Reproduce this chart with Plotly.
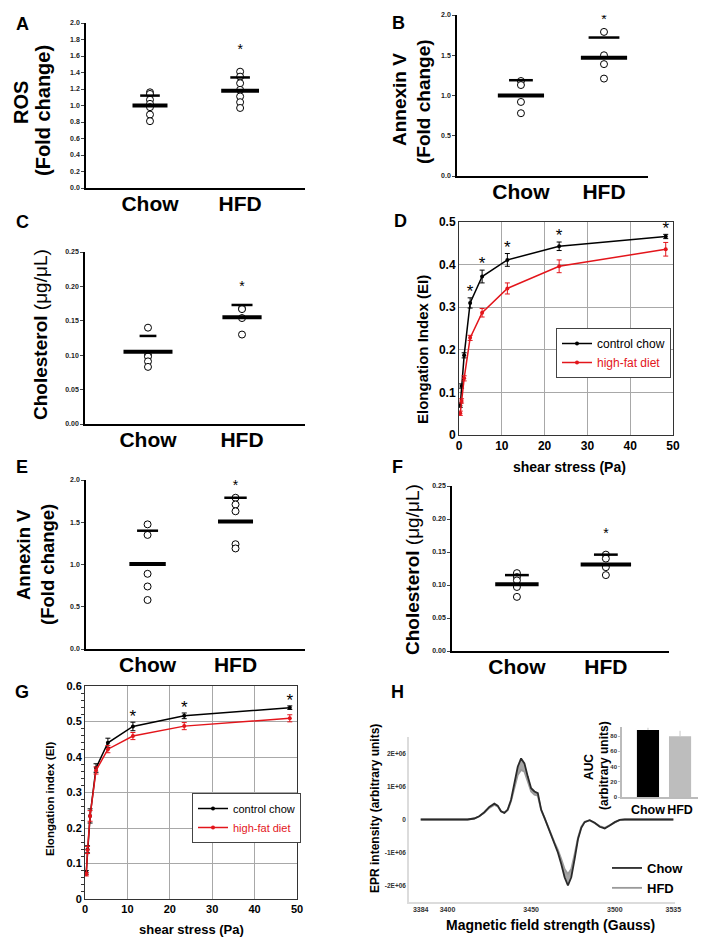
import plotly.graph_objects as go

W, H = 709, 947
FONT = "Liberation Sans, Arial, Helvetica, sans-serif"

# ---------------- data ----------------
groups = ["Chow", "HFD"]

# A  ROS (fold change)
A_chow = [1.16, 1.14, 1.07, 1.02, 0.98, 0.89, 0.81]
A_hfd = [1.41, 1.35, 1.27, 1.19, 1.11, 1.04, 0.97]
A_mean = [1.00, 1.18]
A_upper = [1.12, 1.34]
A_star = 1.67

# B  Annexin V (fold change)
B_chow = [1.18, 1.13, 0.92, 0.78]
B_hfd = [1.79, 1.50, 1.39, 1.21]
B_mean = [1.00, 1.47]
B_upper = [1.19, 1.72]
B_star = 1.93

# C  Cholesterol (ug/uL)
C_chow = [0.140, 0.100, 0.098, 0.091, 0.083]
C_hfd = [0.168, 0.167, 0.154, 0.130]
C_mean = [0.105, 0.155]
C_upper = [0.128, 0.173]
C_star = 0.198

# E  Annexin V (fold change)
E_chow = [1.475, 1.35, 0.89, 0.74, 0.58]
E_hfd = [1.79, 1.71, 1.63, 1.24, 1.19]
E_mean = [1.006, 1.51]
E_upper = [1.40, 1.79]
E_star = 1.92

# F  Cholesterol (ug/uL)
F_chow = [0.118, 0.112, 0.107, 0.097, 0.082]
F_hfd = [0.146, 0.140, 0.127, 0.115]
F_mean = [0.101, 0.131]
F_upper = [0.115, 0.146]
F_star = 0.176

# D / G  elongation index vs shear stress
shear = [0.3, 0.6, 1.2, 2.6, 5.4, 11.3, 23.4, 48.3]
D_ctrl = [0.070, 0.115, 0.187, 0.310, 0.372, 0.411, 0.443, 0.466]
D_ctrl_err = [0.005, 0.005, 0.006, 0.012, 0.015, 0.015, 0.010, 0.005]
D_hfd = [0.051, 0.080, 0.133, 0.228, 0.287, 0.344, 0.396, 0.436]
D_hfd_err = [0.005, 0.005, 0.006, 0.006, 0.010, 0.013, 0.015, 0.016]
D_sig = [0, 0, 0, 1, 1, 1, 1, 1]

G_ctrl = [0.075, 0.140, 0.234, 0.369, 0.440, 0.486, 0.516, 0.539]
G_ctrl_err = [0.005, 0.010, 0.020, 0.012, 0.013, 0.012, 0.008, 0.005]
G_hfd = [0.070, 0.138, 0.234, 0.362, 0.422, 0.459, 0.487, 0.509]
G_hfd_err = [0.005, 0.010, 0.015, 0.010, 0.010, 0.010, 0.010, 0.010]
G_sig = [0, 0, 0, 0, 0, 1, 1, 1]

# H  EPR spectrum (x in Gauss, y in 1E+06 arbitrary units)
epr_field = [3384, 3395, 3405, 3412, 3416, 3419, 3422, 3425, 3428, 3430, 3432, 3434,
             3436, 3438, 3440, 3442, 3444, 3446, 3448, 3450, 3452, 3454, 3455, 3456,
             3458, 3460, 3462, 3464, 3466, 3468, 3470, 3472, 3474, 3476, 3478, 3480,
             3482, 3485, 3488, 3491, 3494, 3497, 3500, 3503, 3506, 3520, 3535]
epr_chow = [0, 0, 0, 0, 0.03, 0.10, 0.22, 0.38, 0.48, 0.42, 0.25, 0.20,
            0.30, 0.60, 1.10, 1.60, 1.85, 1.70, 1.30, 0.95, 0.85, 0.80, 0.55, 0.30,
            0.05, -0.20, -0.50, -0.75, -1.00, -1.35, -1.75, -2.00, -1.75, -1.20, -0.60, -0.25,
            -0.08, -0.02, -0.10, -0.22, -0.27, -0.18, -0.08, -0.01, 0, 0, 0]
epr_hfd = [0, 0, 0, 0, 0.03, 0.10, 0.20, 0.35, 0.44, 0.40, 0.25, 0.20,
           0.28, 0.55, 0.95, 1.35, 1.50, 1.45, 1.15, 0.85, 0.75, 0.72, 0.50, 0.28,
           0.05, -0.18, -0.45, -0.70, -0.92, -1.20, -1.50, -1.65, -1.50, -1.05, -0.55, -0.22,
           -0.07, -0.02, -0.10, -0.20, -0.25, -0.17, -0.07, -0.01, 0, 0, 0]
epr_xticks = [3384, 3400, 3450, 3500, 3535]
epr_yticks = [-2, -1, 0, 1, 2]
epr_yticktext = ["-2E+06", "-1E+06", "0", "1E+06", "2E+06"]

# H inset AUC
auc_vals = [88, 80]
auc_err = [3, 7]

# ---------------- helpers ----------------
fig = go.Figure()


def xdom(a, b):
    return [a / W, b / W]


def ydom(top, bottom):
    return [1 - bottom / H, 1 - top / H]


def ann(text, x, y, size, angle=0, bold=True, color="black"):
    fig.add_annotation(text=text, x=x / W, y=1 - y / H, xref="paper", yref="paper",
                       showarrow=False, textangle=angle, xanchor="center", yanchor="middle",
                       font=dict(family=FONT, size=size, color=color,
                                 weight="bold" if bold else "normal"))


layout_axes = {}


def dot_panel(n, xpx, ypx, xr, yr, dtick, fmt, chow, hfd, mean, upper, star,
              mean_w, up_w):
    xa, ya = f"x{n}", f"y{n}"
    for g, pts in zip(groups, [chow, hfd]):
        fig.add_trace(go.Scatter(x=[g] * len(pts), y=pts, mode="markers", xaxis=xa, yaxis=ya,
                                 showlegend=False,
                                 marker=dict(symbol="circle", size=7, color="white",
                                             line=dict(color="black", width=1))))
    # mean (thick) and upper error (thin) horizontal bars
    for vals, widths, thick in [(mean, mean_w, 4), (upper, up_w, 2.5)]:
        fig.add_trace(go.Scatter(x=groups, y=vals, mode="markers", xaxis=xa, yaxis=ya,
                                 showlegend=False,
                                 marker=dict(symbol="line-ew", size=widths, color="black",
                                             opacity=1,
                                             line=dict(color="black", width=thick))))
    fig.add_trace(go.Scatter(x=["HFD"], y=[star], mode="text", text=["*"], xaxis=xa, yaxis=ya,
                             showlegend=False, textposition="middle center",
                             textfont=dict(family=FONT, size=14, color="black")))
    key = "" if n == 1 else str(n)
    layout_axes["xaxis" + key] = dict(
        domain=xdom(*xpx), anchor=ya, type="category", categoryorder="array",
        categoryarray=groups, range=xr, showline=True, linecolor="black", linewidth=1.5,
        ticks="", showgrid=False, zeroline=False, ticklabelstandoff=-4, automargin=False,
        tickfont=dict(family=FONT, size=21, color="black", weight="bold"))
    layout_axes["yaxis" + key] = dict(
        domain=ydom(*ypx), anchor=xa, range=yr, dtick=dtick, tickformat=fmt,
        showline=True, linecolor="black", linewidth=1.5, ticks="outside", ticklen=3,
        tickwidth=1, showgrid=False, zeroline=False, automargin=False,
        tickfont=dict(family=FONT, size=7, color="#222", weight="bold"))


def ei_panel(n, xpx, ypx, yr, ctrl, ctrl_err, hfd, hfd_err, sig, legend, tick_size, star_off):
    xa, ya = f"x{n}", f"y{n}"
    fig.add_trace(go.Scatter(x=shear, y=ctrl, mode="lines+markers", xaxis=xa, yaxis=ya,
                             name="control chow", legend=legend, legendrank=1,
                             line=dict(color="black", width=1.5),
                             marker=dict(size=4, color="black"),
                             error_y=dict(type="data", array=ctrl_err, color="black",
                                          thickness=1, width=2.5)))
    fig.add_trace(go.Scatter(x=shear, y=hfd, mode="lines+markers", xaxis=xa, yaxis=ya,
                             name="<span style='color:#e3151b'>high-fat diet</span>",
                             legend=legend, legendrank=2,
                             line=dict(color="#e3151b", width=1.5),
                             marker=dict(size=4, color="#e3151b"),
                             error_y=dict(type="data", array=hfd_err, color="#e3151b",
                                          thickness=1, width=2.5)))
    sx = [s for s, f in zip(shear, sig) if f]
    sy = [c + e + star_off for c, e, f in zip(ctrl, ctrl_err, sig) if f]
    fig.add_trace(go.Scatter(x=sx, y=sy, mode="text", text=["*"] * len(sx), xaxis=xa, yaxis=ya,
                             showlegend=False, textposition="middle center",
                             textfont=dict(family=FONT, size=17, color="black")))
    common = dict(showline=True, linecolor="#333", linewidth=1, mirror=True,
                  showgrid=True, gridcolor="#a8a8a8", gridwidth=1, zeroline=False, ticks="",
                  automargin=False,
                  tickfont=dict(family=FONT, size=tick_size, color="black", weight="bold"))
    layout_axes[f"xaxis{n}"] = dict(domain=xdom(*xpx), anchor=ya, range=[0, 50], dtick=10,
                                    **common)
    layout_axes[f"yaxis{n}"] = dict(domain=ydom(*ypx), anchor=xa, range=yr, dtick=0.1,
                                    **common)


# ---------------- panels ----------------
dot_panel(1, (86, 305), (23, 188), [-0.71, 1.72], [0, 2.0], 0.2, ".1f",
          A_chow, A_hfd, A_mean, A_upper, A_star, [25, 27], [14, 14])
dot_panel(2, (457, 648), (15, 176), [-0.77, 1.53], [0, 2.0], 0.5, ".1f",
          B_chow, B_hfd, B_mean, B_upper, B_star, [33, 33], [17, 22])
dot_panel(3, (85, 305), (252, 424), [-0.67, 1.67], [0, 0.25], 0.05, ".2f",
          C_chow, C_hfd, C_mean, C_upper, C_star, [35, 28], [12, 15])
ei_panel(4, (459, 673), (222, 435), [0, 0.5], D_ctrl, D_ctrl_err, D_hfd, D_hfd_err,
         D_sig, "legend", 12, 0.012)
dot_panel(5, (86, 305), (480, 649), [-0.70, 1.79], [0, 2.0], 0.5, ".1f",
          E_chow, E_hfd, E_mean, E_upper, E_star, [26, 25], [15, 16])
dot_panel(6, (452, 669), (486, 651), [-0.73, 1.71], [0, 0.25], 0.05, ".2f",
          F_chow, F_hfd, F_mean, F_upper, F_star, [31, 36], [17, 17])
ei_panel(7, (85, 297), (686, 899), [0, 0.6], G_ctrl, G_ctrl_err, G_hfd, G_hfd_err,
         G_sig, "legend2", 11, 0.012)
layout_axes["yaxis7"].update(minor=dict(ticks="outside", ticklen=3, dtick=0.02,
                                        tickcolor="#333", showgrid=False))

# H  EPR spectrum
fig.add_trace(go.Scatter(x=epr_field, y=epr_hfd, mode="lines", xaxis="x8", yaxis="y8",
                         showlegend=False, line=dict(width=0, color="rgba(0,0,0,0)")))
fig.add_trace(go.Scatter(x=epr_field, y=epr_chow, mode="lines", xaxis="x8", yaxis="y8",
                         showlegend=False, fill="tonexty", fillcolor="rgba(105,105,105,0.6)",
                         line=dict(width=0, color="rgba(0,0,0,0)")))
fig.add_trace(go.Scatter(x=epr_field, y=epr_hfd, mode="lines", xaxis="x8", yaxis="y8",
                         name="HFD", legend="legend3", legendrank=2,
                         line=dict(color="#9a9a9a", width=1.8)))
fig.add_trace(go.Scatter(x=epr_field, y=epr_chow, mode="lines", xaxis="x8", yaxis="y8",
                         name="Chow", legend="legend3", legendrank=1,
                         line=dict(color="#2a2a2a", width=1.8)))
layout_axes["xaxis8"] = dict(domain=xdom(409, 675), anchor="y8", range=[3377, 3536],
                             tickvals=epr_xticks, showline=True, linecolor="#dcdcdc",
                             linewidth=1.5, ticks="", showgrid=False, zeroline=False,
                             automargin=False,
                             tickfont=dict(family=FONT, size=7, color="#333", weight="bold"))
layout_axes["yaxis8"] = dict(domain=ydom(737, 902), anchor="x8", range=[-2.5, 2.5],
                             tickvals=epr_yticks, ticktext=epr_yticktext, showline=True,
                             linecolor="#dcdcdc", linewidth=1.5, ticks="", showgrid=False,
                             zeroline=False, automargin=False,
                             tickfont=dict(family=FONT, size=6.5, color="#333", weight="bold"))

# H inset AUC bars
fig.add_trace(go.Bar(x=groups, y=auc_vals, xaxis="x9", yaxis="y9", showlegend=False,
                     width=0.69, marker=dict(color=["black", "#bdbdbd"], line=dict(width=0)),
                     error_y=dict(type="data", array=auc_err, arrayminus=[0, 0],
                                  symmetric=False, color="#c8c8c8", thickness=1, width=0)))
layout_axes["xaxis9"] = dict(domain=xdom(622, 698), anchor="y9", type="category",
                             categoryorder="array", categoryarray=groups, range=[-0.81, 1.56],
                             showline=True, linecolor="#bbbbbb", linewidth=1.5, ticks="",
                             showgrid=False, zeroline=False, tickangle=0, automargin=False,
                             tickfont=dict(family=FONT, size=12.5, color="black", weight="bold"))
layout_axes["yaxis9"] = dict(domain=ydom(727, 797), anchor="x9", range=[0, 92], dtick=20,
                             showline=True, linecolor="#bbbbbb", linewidth=1.5,
                             ticks="outside", ticklen=2, tickcolor="#bbbbbb", showgrid=False,
                             zeroline=False, automargin=False,
                             tickfont=dict(family=FONT, size=6, color="#333", weight="bold"))

# ---------------- text ----------------
for letter, (lx, ly) in zip("ABCDEFGH", [(22, 24), (398, 23), (22, 222), (400, 221),
                                         (22, 467), (397, 467), (22, 692), (397, 692)]):
    ann(letter, lx, ly, 18)

ann("ROS", 21, 103, 20, -90)
ann("(Fold change)", 43, 111, 20, -90)
ann("Annexin V", 399, 100, 19, -90)
ann("(Fold change)", 423, 102, 19, -90)
ann("<b>Cholesterol</b> (μg/μL)", 40, 335, 19, -90, bold=False)
ann("Elongation Index (EI)", 422, 350, 15, -90)
ann("shear stress (Pa)", 569, 467, 14)
ann("Annexin V", 23, 555, 18.5, -90)
ann("(Fold change)", 47, 564, 18.5, -90)
ann("<b>Cholesterol</b> (μg/μL)", 412, 570, 19, -90, bold=False)
ann("Elongation index (EI)", 50, 799, 11.5, -90)
ann("shear stress (Pa)", 191, 929, 13)
ann("EPR intensity (arbitrary units)", 375, 808, 12, -90)
ann("Magnetic field strength (Gauss)", 550, 925, 14)
ann("AUC", 589, 767, 12, -90)
ann("(arbitrary units)", 604, 766, 12, -90)

fig.update_layout(
    width=W, height=H, margin=dict(l=0, r=0, t=0, b=0, autoexpand=False),
    paper_bgcolor="white", plot_bgcolor="white",
    font=dict(family=FONT, color="black"),
    legend=dict(x=556 / W, y=1 - 328 / H, xanchor="left", yanchor="top",
                traceorder="normal", bgcolor="white", bordercolor="#444", borderwidth=1,
                tracegroupgap=0, font=dict(family=FONT, size=12, color="black")),
    legend2=dict(x=192 / W, y=1 - 793 / H, xanchor="left", yanchor="top",
                 traceorder="normal", bgcolor="white", bordercolor="#444", borderwidth=1,
                 tracegroupgap=0, font=dict(family=FONT, size=11, color="black")),
    legend3=dict(x=607 / W, y=1 - 878 / H, xanchor="left", yanchor="middle",
                 traceorder="normal", bgcolor="rgba(0,0,0,0)", borderwidth=0,
                 tracegroupgap=0,
                 font=dict(family=FONT, size=13, color="black", weight="bold")),
    **layout_axes,
)

fig.write_html("out.html", config={"displayModeBar": False},
               post_script="document.body.style.margin='0px';")
